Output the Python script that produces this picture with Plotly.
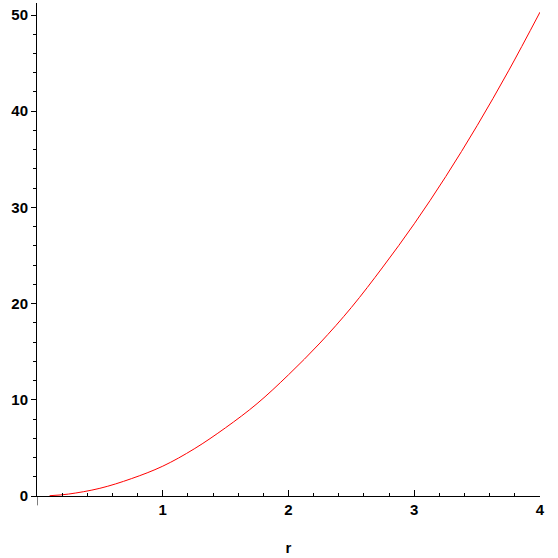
import plotly.graph_objects as go

# values
r_vals = [0.1, 0.25, 0.5, 0.75, 1.0, 1.25, 1.5, 1.75, 2.0, 2.25, 2.5, 2.75,
          3.0, 3.25, 3.5, 3.75, 4.0]
area_vals = [0.03, 0.2, 0.8, 1.8, 3.1, 4.9, 7.1, 9.6, 12.6, 15.9, 19.6, 23.8,
             28.3, 33.2, 38.5, 44.2, 50.3]

x_ticks = [1, 2, 3, 4]
y_ticks = [0, 10, 20, 30, 40, 50]

tick_font = dict(family="Liberation Sans", size=15, color="black", weight="bold")

fig = go.Figure()
fig.add_trace(go.Scatter(x=r_vals, y=area_vals, mode="lines",
                         line=dict(color="red", width=1, shape="spline"),
                         hoverinfo="skip"))

fig.update_layout(
    width=558, height=558,
    margin=dict(l=37, r=18, t=3, b=62),
    plot_bgcolor="white", paper_bgcolor="white",
    showlegend=False,
    xaxis=dict(range=[0, 4], showgrid=False, zeroline=False, automargin=False,
               showline=True, linecolor="black", linewidth=1,
               tickmode="array", tickvals=x_ticks,
               ticks="inside", ticklen=6, tickcolor="black",
               minor=dict(dtick=0.2, ticks="inside", ticklen=3, tickcolor="black"),
               tickfont=tick_font,
               title=dict(text="r", font=tick_font, standoff=25)),
    yaxis=dict(range=[0, 51.25], showgrid=False, zeroline=False, automargin=False,
               showline=True, linecolor="black", linewidth=1,
               tickmode="array", tickvals=y_ticks,
               ticks="outside", ticklen=5, tickcolor="black",
               minor=dict(dtick=2, ticks="outside", ticklen=3, tickcolor="black"),
               tickfont=tick_font),
)

# y axis line runs a little below the x axis
fig.add_shape(type="line", xref="x", yref="paper", x0=0, x1=0, y0=0, y1=-0.019,
              line=dict(color="black", width=1))

# drop the default page margin so the figure sits at the window corner
fig.write_html("out.html", config={"displayModeBar": False},
               post_script="document.body.style.margin='0';")
